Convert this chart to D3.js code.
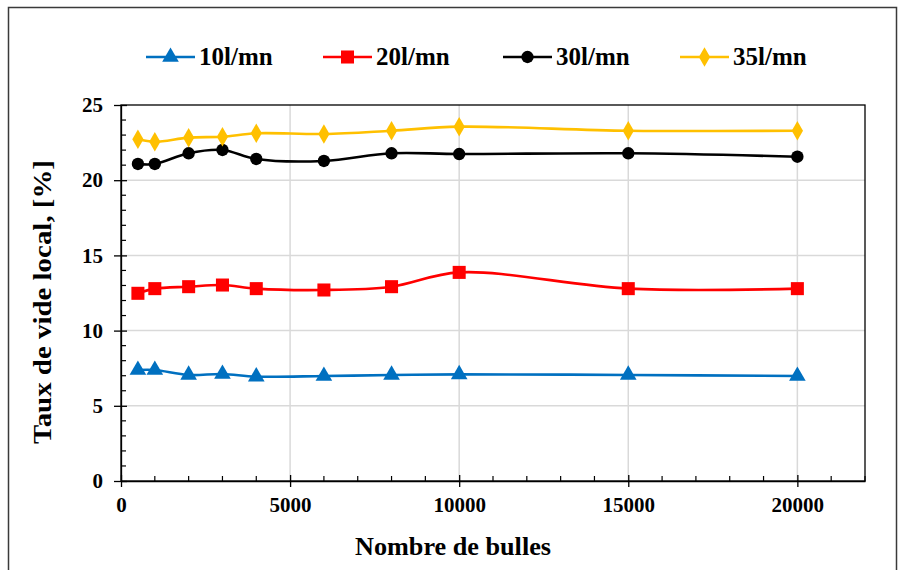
<!DOCTYPE html>
<html><head><meta charset="utf-8">
<script src="https://cdn.jsdelivr.net/npm/d3@7"></script>
<style>
html,body{margin:0;padding:0;background:#fff;}
svg{display:block;}
</style></head>
<body>
<svg id="chart" width="906" height="570" font-family="Liberation Serif"></svg>
<script>
const bubbles = [500, 1000, 2000, 3000, 4000, 6000, 8000, 10000, 15000, 20000];
const s10 = [7.38, 7.38, 7.05, 7.11, 6.94, 6.98, 7.05, 7.09, 7.05, 6.98];
const s20 = [12.48, 12.79, 12.92, 13.03, 12.79, 12.70, 12.92, 13.87, 12.79, 12.79];
const s30 = [21.08, 21.08, 21.79, 22.01, 21.41, 21.28, 21.79, 21.74, 21.79, 21.56];
const s35 = [22.72, 22.56, 22.83, 22.89, 23.12, 23.07, 23.29, 23.56, 23.29, 23.29];
const seriesNames = ["10l/mn", "20l/mn", "30l/mn", "35l/mn"];
const seriesColors = ["#0070C0", "#FF0000", "#000000", "#FFC000"];
const seriesShapes = ["triangle", "square", "circle", "diamond"];
const xTicks = [0, 5000, 10000, 15000, 20000];
const yTicks = [0, 5, 10, 15, 20, 25];
const xTitle = "Nombre de bulles";
const yTitle = "Taux de vide local, [%]";

const FONT = "Liberation Serif";
const svg = d3.select("#chart");
const L = 121, R = 865, T = 105, B = 481;
const x = d3.scaleLinear().domain([0, 22000]).range([L, R]);
const y = d3.scaleLinear().domain([0, 25]).range([B, T]);

function styleText(sel, size) {
  sel.attr("font-family", FONT).style("font-family", '"Liberation Serif"')
    .attr("font-size", size).attr("font-weight", "bold").attr("fill", "#000");
}

// outer frame
svg.append("rect").attr("x", 8.5).attr("y", 7.5).attr("width", 888).attr("height", 620)
  .attr("fill", "none").attr("stroke", "#3a3a3a").attr("stroke-width", 1.5);

// gridlines
const grid = svg.append("g");
grid.selectAll(".gx").data(xTicks.filter(d => d > 0)).join("line")
  .attr("x1", d => x(d)).attr("x2", d => x(d)).attr("y1", T).attr("y2", B)
  .attr("stroke", "#d9d9d9").attr("stroke-width", 1.5);
grid.selectAll(".gy").data(yTicks.filter(d => d > 0 && d < 25)).join("line")
  .attr("x1", L).attr("x2", R).attr("y1", d => y(d)).attr("y2", d => y(d))
  .attr("stroke", "#d9d9d9").attr("stroke-width", 1.5);

// plot frame
svg.append("rect").attr("x", L).attr("y", T).attr("width", R - L).attr("height", B - T)
  .attr("fill", "none").attr("stroke", "#000").attr("stroke-width", 1.3);

// minor ticks
const xMinor = d3.range(0, 22001, 1000).filter(d => d % 5000 !== 0);
svg.append("g").selectAll("line").data(xMinor).join("line")
  .attr("x1", d => x(d)).attr("x2", d => x(d)).attr("y1", B).attr("y2", B - 5)
  .attr("stroke", "#000").attr("stroke-width", 1.2);
const yMinor = d3.range(0, 26, 1).filter(d => d % 5 !== 0);
svg.append("g").selectAll("line").data(yMinor).join("line")
  .attr("x1", L).attr("x2", L + 5).attr("y1", d => y(d)).attr("y2", d => y(d))
  .attr("stroke", "#000").attr("stroke-width", 1.2);

// axes
const xAxis = svg.append("g").attr("transform", `translate(0,${B})`)
  .call(d3.axisBottom(x).tickValues(xTicks).tickFormat(d3.format("d")).tickSizeInner(6).tickSizeOuter(0).tickPadding(10));
xAxis.attr("font-family", FONT).attr("font-size", 21);
xAxis.selectAll(".tick line").attr("y1", -6).attr("stroke-width", 1.3);
xAxis.select(".domain").attr("stroke-width", 1.3);
styleText(xAxis.selectAll("text"), 21);

const yAxis = svg.append("g").attr("transform", `translate(${L},0)`)
  .call(d3.axisLeft(y).tickValues(yTicks).tickSizeInner(7).tickSizeOuter(0).tickPadding(11));
yAxis.attr("font-family", FONT).attr("font-size", 21);
yAxis.selectAll(".tick line").attr("x1", 6).attr("stroke-width", 1.3);
yAxis.select(".domain").attr("stroke-width", 1.3);
styleText(yAxis.selectAll("text"), 21);

// titles
styleText(svg.append("text").attr("x", 453).attr("y", 555).attr("text-anchor", "middle")
  .attr("textLength", 196).attr("lengthAdjust", "spacingAndGlyphs").text(xTitle), 25);
styleText(svg.append("text").attr("transform", "translate(51,302) rotate(-90)").attr("text-anchor", "middle")
  .attr("textLength", 284).attr("lengthAdjust", "spacingAndGlyphs").text(yTitle), 25);

// series
const allSeries = [s10, s20, s30, s35];
const line = d3.line().x(d => x(d[0])).y(d => y(d[1])).curve(d3.curveCatmullRom.alpha(0.5));
function symbolPath(shape) {
  const map = {triangle: d3.symbolTriangle, square: d3.symbolSquare, circle: d3.symbolCircle, diamond: d3.symbolDiamond};
  const size = {triangle: 120, square: 170, circle: 120, diamond: 110}[shape];
  return d3.symbol().type(map[shape]).size(size)();
}
allSeries.forEach((vals, i) => {
  const pts = bubbles.map((b, j) => [b, vals[j]]);
  svg.append("path").datum(pts).attr("d", line).attr("fill", "none")
    .attr("stroke", seriesColors[i]).attr("stroke-width", 2.6);
  svg.append("g").selectAll("path").data(pts).join("path")
    .attr("d", symbolPath(seriesShapes[i]))
    .attr("transform", d => `translate(${x(d[0])},${y(d[1])})`)
    .attr("fill", seriesColors[i]);
});

// legend
const legX = [146, 323, 503, 680];
const legY = 57;
const leg = svg.append("g");
seriesNames.forEach((n, i) => {
  const g = leg.append("g");
  g.append("line").attr("x1", legX[i]).attr("x2", legX[i] + 49).attr("y1", legY).attr("y2", legY)
    .attr("stroke", seriesColors[i]).attr("stroke-width", 2.6);
  g.append("path").attr("d", symbolPath(seriesShapes[i]))
    .attr("transform", `translate(${legX[i] + 24.5},${legY})`).attr("fill", seriesColors[i]);
  styleText(g.append("text").attr("x", legX[i] + 53).attr("y", legY + 8).text(n), 25);
});
</script>
</body></html>
